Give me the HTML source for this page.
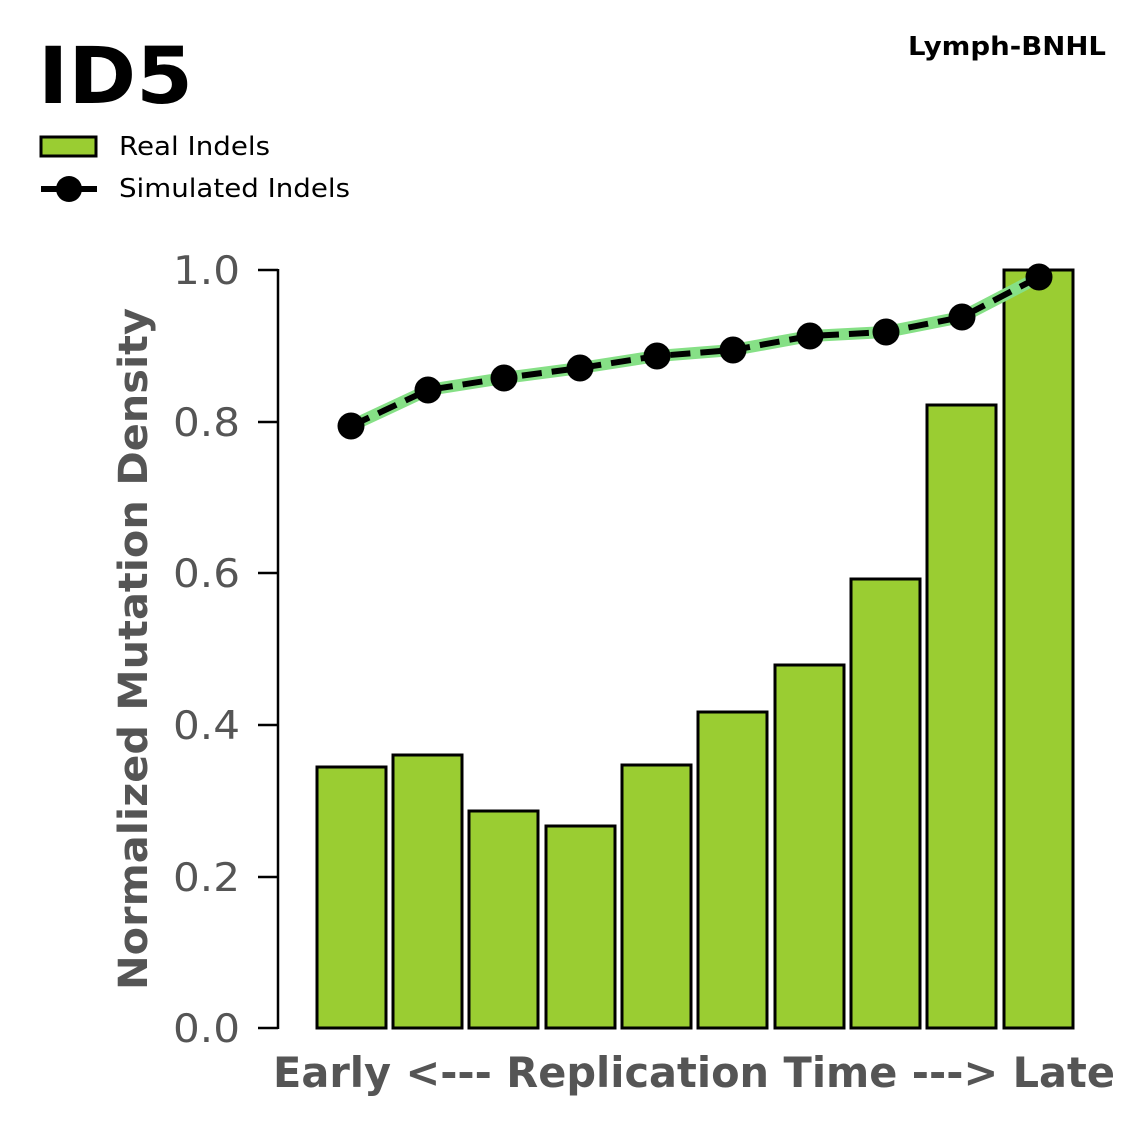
<!DOCTYPE html>
<html><head><meta charset="utf-8"><style>
html,body{margin:0;padding:0;background:#fff;}
svg{display:block;font-family:"DejaVu Sans","Liberation Sans",sans-serif;}
</style></head><body>
<svg width="1147" height="1125" viewBox="0 0 1147 1125" xmlns="http://www.w3.org/2000/svg">
<text x="38" y="103" font-size="78" font-weight="bold" fill="#000" textLength="155" lengthAdjust="spacingAndGlyphs">ID5</text>
<text x="908" y="55" font-size="26" font-weight="bold" fill="#000" textLength="198" lengthAdjust="spacingAndGlyphs">Lymph-BNHL</text>
<rect x="41" y="137" width="55" height="19" fill="#9acd32" stroke="#000" stroke-width="3"/>
<text x="119" y="155" font-size="26" fill="#000" textLength="151" lengthAdjust="spacingAndGlyphs">Real Indels</text>
<line x1="41" y1="189" x2="97" y2="189" stroke="#000" stroke-width="6"/>
<circle cx="69" cy="189" r="13" fill="#000"/>
<text x="119" y="197" font-size="26" fill="#000" textLength="231" lengthAdjust="spacingAndGlyphs">Simulated Indels</text>
<line x1="278" y1="269" x2="278" y2="1029" stroke="#000" stroke-width="2.5"/>
<g stroke="#000" stroke-width="2.5">
<line x1="258" y1="270" x2="278" y2="270"/><line x1="258" y1="422" x2="278" y2="422"/>
<line x1="258" y1="573" x2="278" y2="573"/><line x1="258" y1="725" x2="278" y2="725"/>
<line x1="258" y1="877" x2="278" y2="877"/><line x1="258" y1="1028" x2="278" y2="1028"/>
</g>
<g font-size="39" fill="#555">
<text x="173" y="284" textLength="67" lengthAdjust="spacingAndGlyphs">1.0</text>
<text x="173" y="436" textLength="67" lengthAdjust="spacingAndGlyphs">0.8</text>
<text x="173" y="587" textLength="67" lengthAdjust="spacingAndGlyphs">0.6</text>
<text x="173" y="739" textLength="67" lengthAdjust="spacingAndGlyphs">0.4</text>
<text x="173" y="891" textLength="67" lengthAdjust="spacingAndGlyphs">0.2</text>
<text x="173" y="1042" textLength="67" lengthAdjust="spacingAndGlyphs">0.0</text>
</g>
<text transform="translate(147,990) rotate(-90)" font-size="40" font-weight="bold" fill="#555" textLength="682" lengthAdjust="spacingAndGlyphs">Normalized Mutation Density</text>
<text x="273" y="1087" font-size="42" font-weight="bold" fill="#555" textLength="842" lengthAdjust="spacingAndGlyphs">Early &lt;--- Replication Time ---&gt; Late</text>
<g fill="#9acd32" stroke="#000" stroke-width="3">
<rect x="317" y="767" width="69" height="261"/>
<rect x="393" y="755" width="69" height="273"/>
<rect x="469" y="811" width="69" height="217"/>
<rect x="546" y="826" width="69" height="202"/>
<rect x="622" y="765" width="69" height="263"/>
<rect x="698" y="712" width="69" height="316"/>
<rect x="775" y="665" width="69" height="363"/>
<rect x="851" y="579" width="69" height="449"/>
<rect x="927" y="405" width="69" height="623"/>
<rect x="1004" y="270" width="69" height="758"/>
</g>
<polyline points="351,426 428,390 504,378 580,368 657,356 733,350 810,336 886,332 962,317 1039,277" fill="none" stroke="#86e086" stroke-width="12" stroke-linejoin="round"/>
<polyline points="351,426 428,390 504,378 580,368 657,356 733,350 810,336 886,332 962,317 1039,277" fill="none" stroke="#000" stroke-width="6" stroke-dasharray="20,10"/>
<g fill="#000">
<circle cx="351" cy="426" r="13.5"/><circle cx="428" cy="390" r="13.5"/><circle cx="504" cy="378" r="13.5"/>
<circle cx="580" cy="368" r="13.5"/><circle cx="657" cy="356" r="13.5"/><circle cx="733" cy="350" r="13.5"/>
<circle cx="810" cy="336" r="13.5"/><circle cx="886" cy="332" r="13.5"/><circle cx="962" cy="317" r="13.5"/>
<circle cx="1039" cy="277" r="13.5"/>
</g>
</svg>
</body></html>
